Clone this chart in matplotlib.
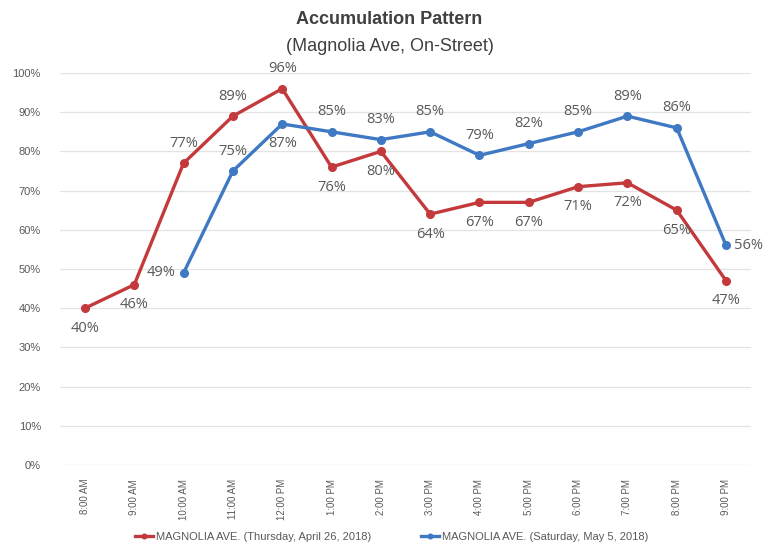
import matplotlib.pyplot as plt
from matplotlib.ticker import PercentFormatter

plt.rcParams['font.family'] = ['Liberation Sans Narrow', 'Liberation Sans', 'DejaVu Sans']

# data
times = ['8:00 AM', '9:00 AM', '10:00 AM', '11:00 AM', '12:00 PM', '1:00 PM', '2:00 PM',
         '3:00 PM', '4:00 PM', '5:00 PM', '6:00 PM', '7:00 PM', '8:00 PM', '9:00 PM']
thursday = [40, 46, 77, 89, 96, 76, 80, 64, 67, 67, 71, 72, 65, 47]
saturday = [None, None, 49, 75, 87, 85, 83, 85, 79, 82, 85, 89, 86, 56]

# where each label sits relative to its point
thu_pos = ['below', 'below', 'above', 'above', 'above', 'below', 'below',
           'below', 'below', 'below', 'below', 'below', 'below', 'below']
sat_pos = [None, None, 'left', 'above', 'below', 'above', 'above',
           'above', 'above', 'above', 'above', 'above', 'above', 'right']

red = '#C3393C'
blue = '#3F78C3'
grey = '#595959'

fig = plt.figure(figsize=(7.79, 5.44), dpi=100)
ax = fig.add_axes([0.0774, 0.1452, 0.8863, 0.7206])

x = list(range(len(times)))
ax.plot(x, [v / 100 for v in thursday], color=red, lw=2.4, marker='o', ms=5.5,
        label='MAGNOLIA AVE. (Thursday, April 26, 2018)')
sx = [i for i, v in enumerate(saturday) if v is not None]
sy = [saturday[i] / 100 for i in sx]
ax.plot(sx, sy, color=blue, lw=2.4, marker='o', ms=5.5,
        label='MAGNOLIA AVE. (Saturday, May 5, 2018)')


def put_labels(vals, pos):
    for i, (v, p) in enumerate(zip(vals, pos)):
        if v is None:
            continue
        off = {'above': (0, 9, 'center', 'bottom'), 'below': (0, -9, 'center', 'top'),
               'left': (-6, 0, 'right', 'center'), 'right': (6, 0, 'left', 'center')}[p]
        ax.annotate(f'{v}%', (i, v / 100), xytext=off[:2], textcoords='offset points',
                    ha=off[2], va=off[3], fontsize=10.5, color=grey,
                    family=['Open Sans', 'DejaVu Sans'])


put_labels(thursday, thu_pos)
put_labels(saturday, sat_pos)

ax.set_xlim(-0.5, len(times) - 0.5)
ax.set_ylim(0, 1)
ax.set_yticks([i / 10 for i in range(11)])
ax.yaxis.set_major_formatter(PercentFormatter(1.0, decimals=0))
ax.set_xticks(x)
ax.set_xticklabels(times, rotation=90, fontsize=7, color=grey)
ax.tick_params(axis='y', labelsize=8, colors=grey, length=0, pad=14)
ax.tick_params(axis='x', length=0, pad=10)
ax.grid(axis='y', color='#E3E3E3', lw=0.9)
ax.set_axisbelow(True)
for s in ax.spines.values():
    s.set_visible(False)

fig.text(0.5, 0.965, 'Accumulation Pattern', ha='center', va='center',
         fontsize=13, fontweight='bold', color='#404040')
fig.text(0.5, 0.915, '(Magnolia Ave, On-Street)', ha='center', va='center',
         fontsize=13, color='#404040')

ax.legend(loc='lower center', bbox_to_anchor=(0.48, -0.215), ncol=2, frameon=False,
          fontsize=8, labelcolor=grey, handlelength=1.6, handletextpad=0.3,
          columnspacing=4.5, markerscale=0.6, borderpad=0.2)

plt.savefig('out.png', dpi=100)
